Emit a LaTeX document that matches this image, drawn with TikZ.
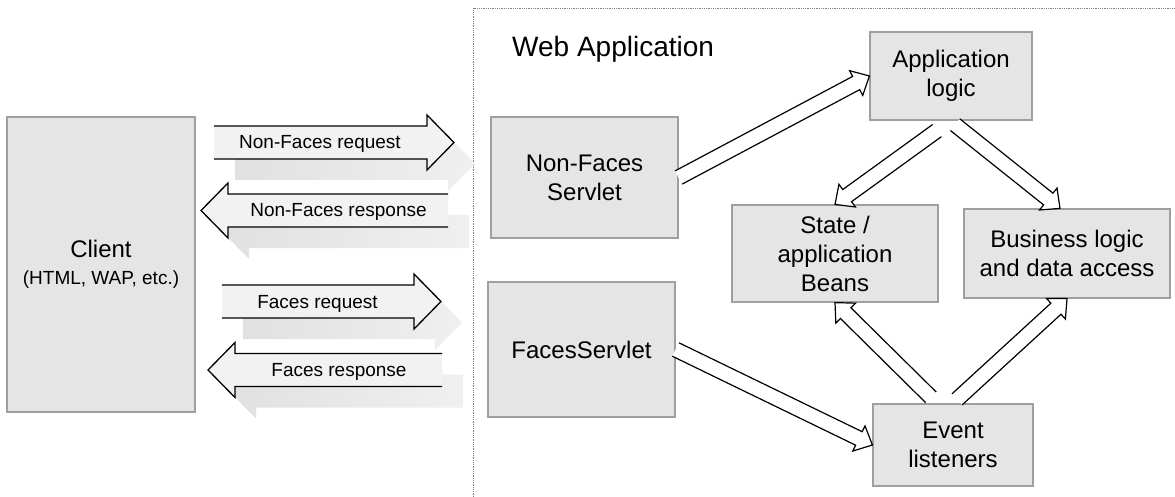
\documentclass[tikz,border=0pt]{standalone}
\usepackage{fontspec}
\setmainfont{Liberation Sans}
\usetikzlibrary{calc}

\tikzset{
  box/.style={draw=gray!75, line width=1.2, fill=gray!20, align=center, inner sep=0, font=\fontsize{24}{29}\selectfont},
  arrowlabel/.style={inner sep=0, text height=15pt, text depth=2pt, font=\fontsize{19}{23}\selectfont},
  bigbody/.style={draw=black, line width=1.3, fill=gray!10},
  bigshadow/.style={left color=gray!24, right color=gray!12},
  thinbody/.style={draw=black, line width=1.2, fill=white},
  frame/.style={draw=gray, line width=0.8, densely dotted},
}

\newcommand{\bigarrow}[2]{%
  \coordinate (ah) at ($(#2)!27pt!(#1)$);
  \shade[bigshadow, transform canvas={shift={(21pt,-21pt)}}] ($(#1)!16.5pt!90:(#2)$) -- ($(ah)!16.5pt!90:(#2)$) -- ($(ah)!27.5pt!90:(#2)$) -- (#2) -- ($(ah)!27.5pt!-90:(#2)$) -- ($(ah)!16.5pt!-90:(#2)$) -- ($(#1)!16.5pt!-90:(#2)$) -- cycle;
  \filldraw[bigbody] ($(#1)!16.5pt!90:(#2)$) -- ($(ah)!16.5pt!90:(#2)$) -- ($(ah)!27.5pt!90:(#2)$) -- (#2) -- ($(ah)!27.5pt!-90:(#2)$) -- ($(ah)!16.5pt!-90:(#2)$) -- ($(#1)!16.5pt!-90:(#2)$);
}

\newcommand{\thinarrow}[2]{%
  \coordinate (ah) at ($(#2)!15pt!(#1)$);
  \filldraw[thinbody] ($(#1)!7.5pt!90:(#2)$) -- ($(ah)!7.5pt!90:(#2)$) -- ($(ah)!14pt!90:(#2)$) -- (#2) -- ($(ah)!14pt!-90:(#2)$) -- ($(ah)!7.5pt!-90:(#2)$) -- ($(#1)!7.5pt!-90:(#2)$);
}

\begin{document}
\begin{tikzpicture}[x=1pt,y=-1pt]
\useasboundingbox (0,0) rectangle (1175,497);
\fill[white] (0,0) rectangle (1175,497);
\draw[frame] (473,497) -- (473,8) -- (1175,8);
\node[anchor=base west, inner sep=0, font=\fontsize{28}{34}\selectfont] (webapp) at (512,57) {Web Application};

\node[box, minimum width=188pt, minimum height=295pt] (client) at (101,264.5) {Client\\[-2pt]{\fontsize{19}{23}\selectfont (HTML, WAP, etc.)}};
\node[box, minimum width=187pt, minimum height=121pt] (nfs) at (584.5,177.5) {Non-Faces\\Servlet};
\node[box, minimum width=187pt, minimum height=135pt] (fs) at (581.5,349.5) {FacesServlet};
\node[box, minimum width=162pt, minimum height=88pt] (app) at (951,76) {Application\\logic};
\node[box, minimum width=206pt, minimum height=97pt] (state) at (835,253.5) {State /\\application\\Beans};
\node[box, minimum width=206pt, minimum height=89pt] (biz) at (1067,253.5) {Business logic\\and data access};
\node[box, minimum width=160pt, minimum height=82pt] (event) at (953,445) {Event\\listeners};

\coordinate (nfreq-a) at (214,142.5);
\coordinate (nfreq-b) at (454,142.5);
\coordinate (nfres-a) at (448,210.5);
\coordinate (nfres-b) at (201,210.5);
\coordinate (freq-a) at (222,301.5);
\coordinate (freq-b) at (441,301.5);
\coordinate (fres-a) at (442,370);
\coordinate (fres-b) at (208,370);

\bigarrow{nfreq-a}{nfreq-b}
\bigarrow{nfres-a}{nfres-b}
\bigarrow{freq-a}{freq-b}
\bigarrow{fres-a}{fres-b}

\node[arrowlabel, xshift=-14pt] (nfreq) at ($(nfreq-a)!0.5!(nfreq-b)$) {Non-Faces request};
\node[arrowlabel, xshift=14pt] (nfres) at ($(nfres-a)!0.5!(nfres-b)$) {Non-Faces response};
\node[arrowlabel, xshift=-14pt] (freq) at ($(freq-a)!0.5!(freq-b)$) {Faces request};
\node[arrowlabel, xshift=14pt] (fres) at ($(fres-a)!0.5!(fres-b)$) {Faces response};

\coordinate (app-st) at ([xshift=-14pt,yshift=-10pt]app.south);
\coordinate (app-bz) at ([xshift=4pt,yshift=-4pt]app.south);
\coordinate (biz-in) at ([xshift=-7pt]biz.north);
\coordinate (ev-st) at ([xshift=-22pt,yshift=6pt]event.north);
\coordinate (ev-bz) at ([xshift=4pt,yshift=4pt]event.north);

\thinarrow{nfs.east}{app.west}
\thinarrow{app-st}{state.north}
\thinarrow{app-bz}{biz-in}
\thinarrow{ev-st}{state.south}
\thinarrow{ev-bz}{biz.south}
\thinarrow{fs.east}{event.west}
\end{tikzpicture}
\end{document}
